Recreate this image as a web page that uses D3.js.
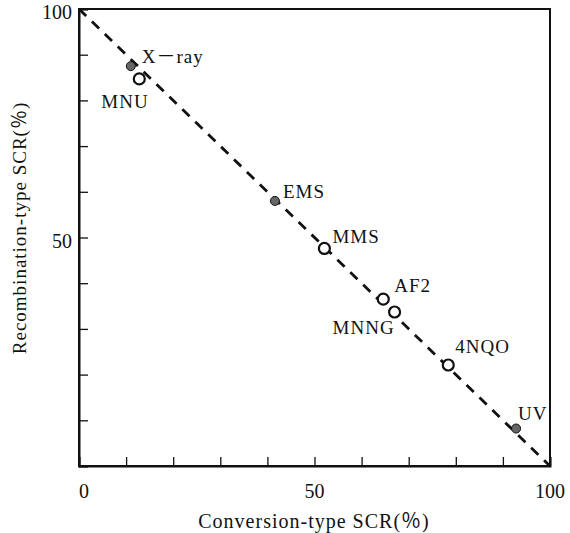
<!DOCTYPE html>
<html>
<head>
<meta charset="utf-8">
<script src="https://cdn.jsdelivr.net/npm/d3@7"></script>
<style>
body{margin:0;background:#fff;}
svg text{font-family:"Liberation Serif","DejaVu Serif","Noto Sans CJK JP",serif;fill:#111;}
</style>
</head>
<body>
<svg id="c" width="570" height="533"></svg>
<script>
const labels = ["X－ray","MNU","EMS","MMS","AF2","MNNG","4NQO","UV"];
const conversion = [11.0,12.8,41.6,52.1,64.6,67.0,78.4,92.8];
const recombination = [87.5,84.7,58.0,47.6,36.5,33.7,22.1,8.2];
const filled = [true,false,true,false,false,false,false,true];
const labelOffsets = [[11,-3],[-38,29],[8,-3],[8,-5],[11,-7],[-62,22],[7,-12],[2,-9]];
const tickValues = d3.range(0,101,10);
const tickLabels = ["0","50","100"];

const svg = d3.select("#c");
const L=79,R=550,T=9,B=466;
const x = d3.scaleLinear().domain([0,100]).range([L,R]);
const y = d3.scaleLinear().domain([0,100]).range([B,T]);

svg.append("rect").attr("x",L).attr("y",T).attr("width",R-L).attr("height",B-T)
  .attr("fill","none").attr("stroke","#111").attr("stroke-width",2);

const xAxis = d3.axisBottom(x).tickValues(tickValues).tickSize(-9).tickFormat("");
const gx = svg.append("g").attr("transform",`translate(0,${B})`).call(xAxis);
const yAxis = d3.axisLeft(y).tickValues(tickValues).tickSize(-9).tickFormat("");
const gy = svg.append("g").attr("transform",`translate(${L},0)`).call(yAxis);
[gx,gy].forEach(g=>{g.select(".domain").attr("stroke","#111").attr("stroke-width",2);
  g.selectAll(".tick line").attr("stroke","#111").attr("stroke-width",1.3);});

svg.selectAll(".xl").data(tickLabels).enter().append("text")
  .attr("x",d=>x(+d)+(d==="0"?5:0)).attr("y",B+32)
  .attr("text-anchor","middle").attr("font-size",20).text(d=>d);
svg.selectAll(".yl").data(["50","100"]).enter().append("text")
  .attr("x",L-7).attr("y",d=>y(+d)+10)
  .attr("text-anchor","end").attr("font-size",20).text(d=>d);

svg.append("text").attr("x",314).attr("y",528).attr("text-anchor","middle")
  .attr("font-size",20).attr("letter-spacing",1).text("Conversion-type SCR(％)");
svg.append("text").attr("transform","translate(26,228) rotate(-90)").attr("text-anchor","middle")
  .attr("font-size",19).attr("letter-spacing",1).text("Recombination-type SCR(％)");

svg.append("line").attr("x1",x(0)).attr("y1",y(100)).attr("x2",x(100)).attr("y2",y(0))
  .attr("stroke","#111").attr("stroke-width",2.8).attr("stroke-dasharray","10,8");

const pts = labels.map((l,i)=>({l,cx:conversion[i],cy:recombination[i],f:filled[i],o:labelOffsets[i]}));
svg.selectAll(".pt").data(pts).enter().append("circle")
  .attr("cx",d=>x(d.cx)).attr("cy",d=>y(d.cy))
  .attr("r",d=>d.f?4.5:5.5)
  .attr("fill",d=>d.f?"#666":"#fff")
  .attr("stroke","#111").attr("stroke-width",d=>d.f?1:2.2);
svg.selectAll(".lb").data(pts).enter().append("text")
  .attr("x",d=>x(d.cx)+d.o[0]).attr("y",d=>y(d.cy)+d.o[1])
  .attr("font-size",19).attr("letter-spacing",1).text(d=>d.l);
</script>
</body>
</html>
